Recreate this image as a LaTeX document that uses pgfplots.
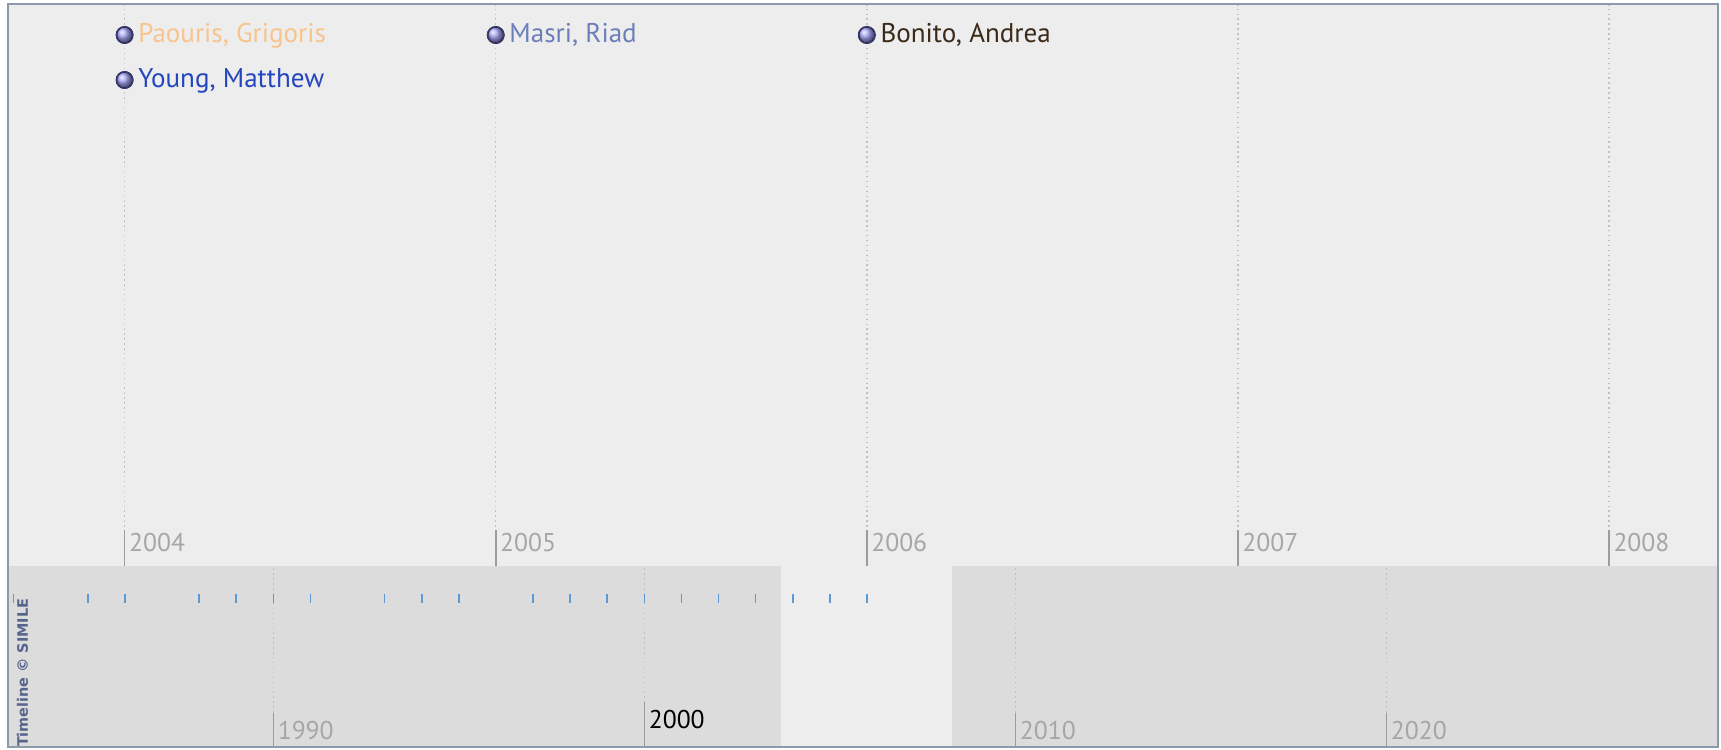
\documentclass[border=0pt]{standalone}
\usepackage{pgfplots}
\pgfplotsset{compat=1.18}
\usepackage{pgfplotstable}
\usepackage{fontspec}
\setmainfont{PT Sans}
\newfontfamily\simfont{DejaVu Sans}
\definecolor{bandtop}{HTML}{EDEDED}
\definecolor{bandbot}{HTML}{DCDCDC}
\definecolor{framec}{HTML}{8E99AA}
\definecolor{gridc}{HTML}{C0C0C0}
\definecolor{tickc}{HTML}{9C9C9C}
\definecolor{yearc}{HTML}{A6A6A6}
\definecolor{evtick}{HTML}{5B9BD5}
\definecolor{cPaouris}{HTML}{F9C48C}
\definecolor{cMasri}{HTML}{6C7FBA}
\definecolor{cYoung}{HTML}{2346BE}
\definecolor{cBonito}{HTML}{3B2A18}
\definecolor{ballc}{HTML}{A4A4F4}
\definecolor{balledge}{HTML}{3A3A78}
\definecolor{simc}{HTML}{56658C}

% events shown in the detail band: year, vertical position (px below band top)
\pgfplotstableread{
year y
2004 -30
2004 -75
2005 -30
2006 -30
}\detailevents

% events marked in the overview band
\pgfplotstableread{
year y
1983 -32
1985 -32
1986 -32
1988 -32
1989 -32
1990 -32
1991 -32
1993 -32
1994 -32
1995 -32
1997 -32
1998 -32
1999 -32
2000 -32
2001 -32
2002 -32
2003 -32
2004 -32
2005 -32
2006 -32
}\overviewevents

\begin{document}
\begin{tikzpicture}
\fill[white] (0,0) rectangle (17.21,7.49);

% ---------------- detail band ----------------
\begin{axis}[
  at={(0.08cm,1.83cm)}, anchor=south west,
  scale only axis, width=17.10cm, height=5.61cm,
  xmin=2003.6858, xmax=2008.2937,
  ymin=-561, ymax=0,
  axis background/.style={fill=bandtop},
  axis line style={draw=none},
  xtick={2004,2005,2006,2007,2008},
  xticklabels={2004,2005,2006,2007,2008},
  ytick=\empty,
  xtick pos=left, tick align=inside,
  major tick length=0.36cm,
  tick style={draw=tickc, line width=0.45pt},
  xmajorgrids, grid style={draw=gridc, densely dotted, line width=0.4pt},
  xticklabel style={anchor=base west, inner sep=0.5pt, xshift=0.02cm, yshift=0.15cm,
    font=\fontsize{7.3}{8}\selectfont, text=yearc},
  clip=false,
]
\addplot[only marks, mark=ball, mark size=0.082cm, mark options={ball color=ballc}]
  table[x=year, y=y] {\detailevents};
\addplot[only marks, mark=o, mark size=0.082cm, mark options={draw=balledge, line width=0.35pt}]
  table[x=year, y=y] {\detailevents};
\addplot[draw=none, mark=none] coordinates {(2004,-30)}
  node[anchor=mid west, inner sep=0pt, xshift=0.13cm, yshift=0.01cm, text=cPaouris, font=\fontsize{7.7}{8}\selectfont] {Paouris, Grigoris};
\addplot[draw=none, mark=none] coordinates {(2004,-75)}
  node[anchor=mid west, inner sep=0pt, xshift=0.13cm, yshift=0.01cm, text=cYoung, font=\fontsize{7.7}{8}\selectfont] {Young, Matthew};
\addplot[draw=none, mark=none] coordinates {(2005,-30)}
  node[anchor=mid west, inner sep=0pt, xshift=0.13cm, yshift=0.01cm, text=cMasri, font=\fontsize{7.7}{8}\selectfont] {Masri, Riad};
\addplot[draw=none, mark=none] coordinates {(2006,-30)}
  node[anchor=mid west, inner sep=0pt, xshift=0.13cm, yshift=0.01cm, text=cBonito, font=\fontsize{7.7}{8}\selectfont] {Bonito, Andrea};
\end{axis}

% ---------------- overview band ----------------
\begin{axis}[
  at={(0.08cm,0.02cm)}, anchor=south west,
  scale only axis, width=17.10cm, height=1.81cm,
  xmin=1982.849, xmax=2028.94,
  ymin=-181, ymax=0,
  axis background/.style={fill=bandbot},
  axis line style={draw=none},
  xtick={1990,2010,2020},
  xticklabels={1990,2010,2020},
  ytick=\empty,
  xtick pos=left, tick align=inside,
  major tick length=0.34cm,
  tick style={draw=tickc, line width=0.45pt},
  xmajorgrids, grid style={draw=gridc, densely dotted, line width=0.4pt},
  xticklabel style={anchor=base west, inner sep=0.5pt, xshift=0.02cm, yshift=0.08cm,
    font=\fontsize{7.3}{8}\selectfont, text=yearc},
  extra x ticks={2000}, extra x tick labels={2000},
  extra x tick style={major tick length=0.45cm,
    xticklabel style={text=black, yshift=0.11cm}},
  clip=false,
]
\addplot[fill=bandtop, draw=none] coordinates
  {(2003.69,-181) (2003.69,0) (2008.29,0) (2008.29,-181)} -- cycle;
\addplot[only marks, mark=|, mark size=0.045cm, mark options={draw=evtick, line width=0.45pt}]
  table[x=year, y=y] {\overviewevents};
\node[rotate=90, text=simc, font=\simfont\bfseries\fontsize{4.1}{5}\selectfont, inner sep=0pt]
  at (rel axis cs:0.0085,0.41) {Timeline \textcopyright{} SIMILE};
\end{axis}

\draw[framec, line width=0.6pt] (0.08,0.02) rectangle (17.18,7.45);
\end{tikzpicture}
\end{document}
